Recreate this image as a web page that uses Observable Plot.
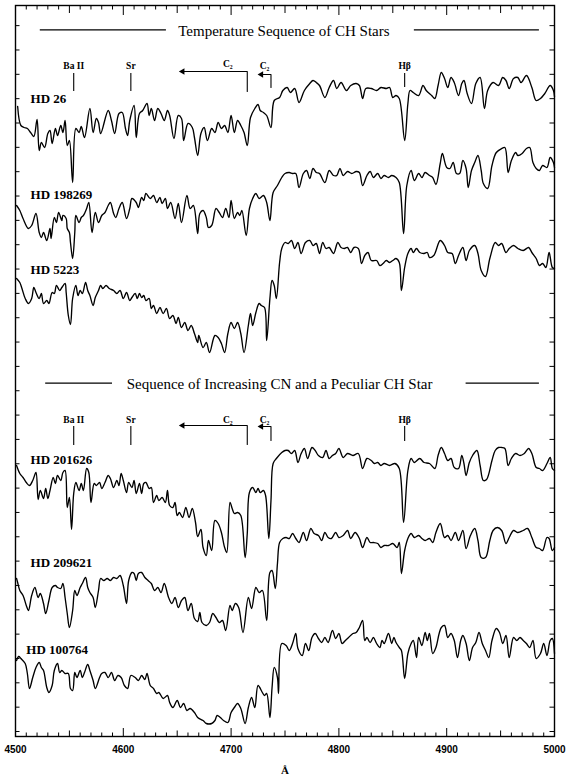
<!DOCTYPE html>
<html><head><meta charset="utf-8">
<script src="https://cdn.jsdelivr.net/npm/d3@7"></script>
<script src="https://cdn.jsdelivr.net/npm/@observablehq/plot@0.6"></script>
<style>html,body{margin:0;padding:0;background:#fff;}</style>
</head><body><div id="chart"></div>
<script>
// Star names (top to bottom)
const starNames = ["HD 26","HD 198269","HD 5223","HD 201626","HD 209621","HD 100764"];

// Spectra: [wavelength (Å), relative flux with display offset]
const hd26 = [[4502,630],[4505,611],[4508,609],[4511,608],[4514,604],[4517,600],[4520,617],[4522,586],[4524,594],[4527,589],[4530,603],[4532,606],[4534,593],[4537,608],[4539,601],[4542,611],[4544,604],[4546,616],[4548,591],[4550,596],[4553,554],[4556,608],[4559,604],[4561,610],[4564,599],[4569,628],[4572,604],[4575,618],[4577,614],[4579,603],[4586,626],[4589,616],[4592,603],[4596,623],[4599,624],[4602,608],[4604,601],[4606,616],[4610,631],[4612,599],[4615,623],[4618,626],[4622,633],[4624,621],[4626,628],[4629,616],[4632,628],[4635,623],[4638,616],[4641,626],[4643,621],[4647,598],[4651,621],[4654,618],[4656,596],[4660,613],[4664,609],[4666,599],[4669,581],[4672,603],[4675,609],[4678,596],[4682,608],[4685,604],[4688,614],[4691,608],[4694,611],[4697,604],[4700,621],[4703,604],[4706,616],[4709,611],[4712,604],[4715,591],[4718,619],[4722,628],[4725,632],[4727,626],[4730,624],[4733,621],[4737,609],[4740,636],[4745,639],[4748,646],[4752,649],[4755,644],[4759,648],[4763,634],[4768,646],[4773,653],[4776,656],[4779,654],[4782,651],[4787,639],[4791,649],[4795,656],[4798,648],[4802,654],[4807,646],[4811,651],[4816,653],[4819,651],[4822,638],[4825,648],[4830,648],[4835,646],[4839,649],[4844,648],[4847,649],[4850,639],[4853,641],[4856,638],[4861,596],[4864,633],[4866,646],[4869,644],[4874,641],[4878,651],[4881,646],[4886,641],[4889,638],[4892,651],[4895,664],[4898,658],[4901,649],[4904,659],[4907,654],[4911,641],[4914,653],[4916,656],[4919,643],[4923,633],[4927,653],[4931,659],[4935,628],[4938,646],[4943,654],[4948,651],[4952,659],[4955,656],[4958,648],[4962,658],[4966,659],[4969,654],[4974,661],[4979,649],[4983,636],[4987,638],[4991,643],[4996,651],[4999,646],[5000,640]];

const hd198269 = [[4501,531],[4504,526],[4507,518],[4512,508],[4515,511],[4519,523],[4522,504],[4524,499],[4526,504],[4529,496],[4532,508],[4533,498],[4536,519],[4538,514],[4540,524],[4543,516],[4544,521],[4547,518],[4548,508],[4550,504],[4551,494],[4553,478],[4555,504],[4556,521],[4559,514],[4561,519],[4563,521],[4566,528],[4568,534],[4571,504],[4574,524],[4577,514],[4580,521],[4583,524],[4586,531],[4588,534],[4591,523],[4593,519],[4596,528],[4599,534],[4603,518],[4606,528],[4608,538],[4612,534],[4614,529],[4617,539],[4619,536],[4621,543],[4625,538],[4628,541],[4631,534],[4634,539],[4636,533],[4639,538],[4641,528],[4644,534],[4648,518],[4651,533],[4654,514],[4659,541],[4662,528],[4665,531],[4669,503],[4671,523],[4674,526],[4677,519],[4679,509],[4682,511],[4686,528],[4689,524],[4692,519],[4695,528],[4698,519],[4700,536],[4703,518],[4706,524],[4708,521],[4710,526],[4714,501],[4717,528],[4720,538],[4723,543],[4726,538],[4730,541],[4733,534],[4736,516],[4739,544],[4743,551],[4747,559],[4750,563],[4754,564],[4757,563],[4760,563],[4763,549],[4767,563],[4770,566],[4773,558],[4776,568],[4779,564],[4782,563],[4787,554],[4791,566],[4795,561],[4798,561],[4801,568],[4804,561],[4808,565],[4812,563],[4816,565],[4819,564],[4822,551],[4826,561],[4829,565],[4832,559],[4836,563],[4839,558],[4842,561],[4846,559],[4849,561],[4853,559],[4856,554],[4860,503],[4863,551],[4867,566],[4870,556],[4874,563],[4877,559],[4880,564],[4884,561],[4887,559],[4890,552],[4894,573],[4896,583],[4900,569],[4903,568],[4906,574],[4909,563],[4912,563],[4915,576],[4918,568],[4920,549],[4923,566],[4926,574],[4929,581],[4932,566],[4934,553],[4938,548],[4942,571],[4946,584],[4951,588],[4954,589],[4957,564],[4960,576],[4964,584],[4966,581],[4970,583],[4974,588],[4977,589],[4980,574],[4983,568],[4986,566],[4989,571],[4993,569],[4996,579],[4999,574],[5000,569]];

const hd5223 = [[4501,458],[4504,454],[4506,448],[4509,438],[4512,433],[4515,438],[4517,449],[4519,444],[4522,438],[4524,443],[4526,433],[4529,436],[4531,433],[4534,444],[4536,443],[4538,451],[4541,446],[4543,449],[4546,453],[4547,444],[4549,421],[4551,412],[4553,438],[4556,451],[4558,441],[4560,446],[4562,443],[4565,454],[4567,446],[4569,441],[4572,431],[4574,439],[4577,446],[4579,451],[4581,448],[4584,451],[4587,448],[4591,446],[4594,443],[4597,446],[4600,438],[4603,444],[4606,436],[4608,439],[4611,443],[4613,438],[4615,443],[4617,439],[4619,441],[4621,436],[4624,438],[4626,428],[4628,431],[4631,423],[4634,429],[4637,423],[4640,428],[4643,418],[4646,421],[4649,413],[4651,419],[4654,409],[4657,414],[4660,406],[4663,411],[4666,403],[4669,394],[4670,401],[4674,389],[4677,394],[4680,384],[4685,401],[4688,399],[4691,393],[4694,384],[4697,403],[4700,414],[4703,408],[4706,414],[4709,403],[4712,384],[4716,411],[4718,423],[4720,411],[4723,424],[4726,433],[4728,431],[4731,429],[4733,396],[4736,438],[4738,456],[4740,451],[4742,438],[4745,474],[4747,488],[4750,494],[4753,493],[4756,496],[4759,488],[4762,494],[4765,483],[4769,494],[4773,496],[4776,491],[4779,493],[4782,483],[4785,494],[4788,488],[4791,489],[4795,483],[4799,494],[4802,489],[4805,488],[4808,489],[4811,484],[4814,489],[4818,488],[4821,473],[4824,481],[4827,484],[4830,476],[4835,476],[4838,471],[4841,473],[4844,476],[4847,474],[4850,476],[4853,478],[4856,474],[4858,446],[4861,469],[4864,483],[4867,488],[4869,484],[4872,488],[4875,484],[4879,483],[4882,484],[4884,479],[4888,481],[4894,496],[4898,491],[4901,484],[4905,483],[4908,473],[4911,481],[4915,489],[4918,476],[4921,486],[4926,491],[4929,483],[4932,466],[4936,460],[4940,478],[4945,494],[4948,491],[4951,493],[4955,484],[4958,488],[4962,491],[4966,488],[4971,486],[4976,489],[4979,484],[4983,478],[4986,471],[4989,473],[4992,469],[4995,484],[4998,469],[5000,468]];

const hd201626 = [[4501,271],[4504,263],[4507,259],[4510,254],[4513,251],[4516,256],[4519,264],[4521,237],[4523,246],[4526,238],[4528,248],[4530,238],[4532,246],[4535,259],[4537,253],[4539,261],[4542,256],[4544,264],[4546,266],[4548,229],[4550,239],[4552,207],[4554,243],[4556,254],[4559,246],[4561,253],[4563,246],[4566,268],[4568,264],[4570,234],[4573,253],[4575,251],[4578,254],[4580,248],[4583,254],[4586,261],[4588,258],[4591,249],[4594,256],[4596,251],[4598,263],[4600,256],[4603,244],[4605,254],[4608,249],[4610,256],[4612,243],[4615,253],[4617,243],[4619,253],[4621,254],[4624,248],[4626,249],[4628,234],[4631,241],[4633,236],[4636,239],[4639,234],[4641,246],[4643,231],[4646,229],[4648,234],[4650,221],[4652,224],[4655,219],[4658,229],[4661,219],[4664,228],[4667,214],[4669,200],[4672,207],[4674,189],[4677,181],[4679,196],[4682,186],[4685,216],[4688,213],[4691,204],[4694,189],[4696,184],[4699,234],[4701,228],[4703,223],[4706,224],[4709,221],[4713,179],[4715,203],[4717,244],[4720,249],[4723,244],[4725,248],[4727,244],[4730,246],[4732,241],[4735,198],[4737,236],[4739,273],[4742,278],[4747,284],[4750,286],[4753,286],[4756,283],[4759,286],[4762,274],[4765,283],[4768,288],[4771,278],[4775,289],[4778,286],[4781,281],[4785,279],[4788,286],[4791,278],[4794,281],[4797,283],[4800,288],[4804,279],[4808,283],[4813,281],[4818,283],[4822,268],[4826,278],[4830,276],[4833,273],[4836,274],[4839,271],[4842,273],[4847,271],[4852,273],[4856,268],[4860,214],[4864,266],[4867,278],[4870,274],[4875,278],[4879,274],[4884,273],[4889,268],[4892,281],[4895,289],[4898,283],[4901,276],[4904,278],[4907,269],[4911,268],[4914,281],[4916,273],[4918,261],[4921,274],[4924,281],[4928,286],[4931,271],[4934,256],[4937,257],[4942,276],[4945,286],[4948,289],[4951,289],[4954,288],[4957,271],[4960,278],[4964,283],[4968,281],[4972,283],[4976,288],[4979,283],[4983,269],[4986,268],[4989,266],[4993,273],[4996,279],[4998,268],[5000,266]];

const hd209621 = [[4501,158],[4502,154],[4504,146],[4507,141],[4510,131],[4512,126],[4515,141],[4518,149],[4521,139],[4523,143],[4526,133],[4528,123],[4531,136],[4534,149],[4537,151],[4539,149],[4542,148],[4544,153],[4546,139],[4548,123],[4550,109],[4553,126],[4555,146],[4557,141],[4560,149],[4562,153],[4565,159],[4567,149],[4569,144],[4572,139],[4574,129],[4577,146],[4579,158],[4582,156],[4585,158],[4588,156],[4591,159],[4594,158],[4597,161],[4600,151],[4603,133],[4605,156],[4608,164],[4610,163],[4612,156],[4614,163],[4617,164],[4620,159],[4623,156],[4626,153],[4629,146],[4632,149],[4635,144],[4638,153],[4642,139],[4645,133],[4648,139],[4651,129],[4654,136],[4657,139],[4660,126],[4663,133],[4666,118],[4669,115],[4671,124],[4673,114],[4677,111],[4680,114],[4683,123],[4686,119],[4689,114],[4692,116],[4695,106],[4699,131],[4701,126],[4704,133],[4707,129],[4711,104],[4716,139],[4719,128],[4723,149],[4726,144],[4729,146],[4733,116],[4736,164],[4738,166],[4741,148],[4743,173],[4745,194],[4748,198],[4751,199],[4754,198],[4757,203],[4760,198],[4763,194],[4767,204],[4770,196],[4774,208],[4777,203],[4781,201],[4784,196],[4787,204],[4790,199],[4793,198],[4797,204],[4800,199],[4804,201],[4808,206],[4811,198],[4815,204],[4819,198],[4822,189],[4826,199],[4829,194],[4832,194],[4836,193],[4839,189],[4842,191],[4846,191],[4850,193],[4854,189],[4856,194],[4858,163],[4861,186],[4864,198],[4867,203],[4870,199],[4874,201],[4877,198],[4880,196],[4884,198],[4887,194],[4890,204],[4894,213],[4898,199],[4901,201],[4904,196],[4908,204],[4911,196],[4915,206],[4918,188],[4922,201],[4926,208],[4929,196],[4932,179],[4936,179],[4940,196],[4943,206],[4947,209],[4951,206],[4955,193],[4958,199],[4962,206],[4966,204],[4971,206],[4975,208],[4979,199],[4983,189],[4986,188],[4989,186],[4993,199],[4995,198],[4998,186],[5000,189]];

const hd100764 = [[4501,76],[4503,80],[4505,78],[4509,73],[4511,63],[4513,48],[4516,59],[4519,69],[4522,74],[4524,69],[4526,66],[4529,49],[4531,44],[4534,51],[4536,66],[4539,73],[4541,64],[4543,66],[4546,63],[4549,63],[4551,48],[4553,46],[4555,64],[4557,59],[4560,66],[4562,59],[4564,64],[4567,72],[4569,66],[4572,56],[4574,48],[4578,59],[4580,63],[4583,64],[4586,59],[4589,64],[4592,56],[4595,61],[4598,59],[4601,51],[4604,48],[4607,61],[4611,59],[4614,56],[4617,61],[4620,57],[4622,63],[4625,51],[4628,48],[4631,43],[4633,44],[4637,38],[4641,41],[4643,34],[4646,29],[4650,36],[4653,29],[4656,33],[4659,26],[4662,28],[4666,24],[4669,19],[4674,16],[4677,13],[4682,13],[4685,16],[4687,21],[4690,19],[4693,16],[4697,14],[4700,24],[4703,29],[4706,33],[4709,28],[4713,13],[4716,29],[4719,39],[4722,29],[4725,51],[4729,44],[4731,41],[4733,43],[4736,19],[4738,49],[4740,69],[4743,59],[4744,43],[4747,93],[4751,91],[4754,86],[4757,93],[4760,103],[4762,88],[4766,81],[4769,93],[4772,86],[4775,99],[4778,103],[4781,98],[4784,94],[4787,99],[4790,94],[4794,106],[4797,98],[4800,103],[4803,93],[4806,96],[4809,99],[4813,103],[4816,104],[4819,109],[4822,116],[4824,96],[4826,99],[4829,94],[4832,99],[4835,93],[4838,89],[4840,96],[4842,93],[4846,103],[4849,93],[4851,99],[4853,94],[4856,89],[4858,86],[4861,58],[4864,83],[4867,93],[4869,96],[4872,79],[4874,99],[4877,91],[4880,104],[4882,96],[4884,103],[4887,83],[4890,89],[4893,103],[4895,109],[4898,111],[4901,99],[4904,103],[4907,96],[4910,79],[4913,96],[4915,101],[4918,93],[4921,76],[4924,89],[4927,94],[4930,104],[4933,93],[4936,86],[4939,79],[4942,96],[4946,108],[4949,104],[4952,93],[4955,101],[4958,79],[4962,99],[4965,96],[4968,99],[4971,96],[4974,93],[4977,89],[4980,96],[4983,78],[4987,83],[4990,93],[4993,81],[4996,96],[4998,98],[5000,83]];

const spectra = [hd26, hd198269, hd5223, hd201626, hd209621, hd100764];

// Star label anchors (wavelength, flux baseline)
const starLabelWl = [4514, 4514, 4514, 4514, 4514, 4510];
const starLabelFlux = [634, 538, 463, 273, 170, 83];

// Panel titles
const panelTitles = ["Temperature Sequence of CH Stars", "Sequence of Increasing CN and a Peculiar CH Star"];
const titleWl = [4749, 4745];
const titleFlux = [705.5, 352];
const titleRuleFlux = [706.7, 706.7, 353.3, 353.3];
const titleRuleFrom = [4523, 4870, 4528, 4918];
const titleRuleTo = [4640, 4986, 4590, 4986];

// Line identifications
const featureNames = ["Ba II", "Sr", "Hβ"];
const featureWl = [4554, 4607, 4861];
const panelLabelFlux = [671, 317];
const featureTickTop = [[663, 663, 663], [310, 310, 310]];
const featureTickBottom = [[645, 645, 649], [291, 291, 295]];

// C2 band heads with leftward arrows
const c2Head = [4715, 4737];
const c2Tail = [4655, 4728];
const c2LabelWl = [4697, 4731];
const c2LabelFlux = [[673, 671], [317, 317]];
const c2ArrowFlux = [[665, 662], [311, 310]];
const c2DropFlux = [[645, 649], [292, 296]];

// Axis ticks
const xLabels = [4500, 4600, 4700, 4800, 4900, 5000];
const xMinor = d3.range(4510, 5000, 10).filter(d => d % 50 !== 0);
const xMid = [4550, 4650, 4750, 4850, 4950];
const xMajor = [4600, 4700, 4800, 4900];
const yTicks = d3.range(0, 30).map(k => 5 + 24.34 * k);

// ---- build tables ----
const rows = spectra.flatMap((s, i) => s.map(([wl, f]) => ({star: starNames[i], wl, f})));
const starLabels = starNames.map((name, i) => ({name, wl: starLabelWl[i], f: starLabelFlux[i]}));
const titles = panelTitles.map((t, i) => ({t, wl: titleWl[i], f: titleFlux[i]}));
const titleRules = titleRuleFlux.map((f, i) => ({f, x1: titleRuleFrom[i], x2: titleRuleTo[i]}));
const featLabels = [], featTicks = [], c2Labels = [], c2Lines = [], c2Tips = [];
for (let p = 0; p < 2; p++) {
  featureNames.forEach((n, j) => {
    featLabels.push({n, wl: featureWl[j], f: panelLabelFlux[p]});
    featTicks.push({wl: featureWl[j], y1: featureTickBottom[p][j], y2: featureTickTop[p][j]});
  });
  c2Head.forEach((h, b) => {
    c2Labels.push({n: "C₂", wl: c2LabelWl[b], f: c2LabelFlux[p][b]});
    const id = p + "-" + b;
    c2Lines.push({id, wl: c2Tail[b], f: c2ArrowFlux[p][b]});
    c2Lines.push({id, wl: h, f: c2ArrowFlux[p][b]});
    c2Lines.push({id, wl: h, f: c2DropFlux[p][b]});
    c2Tips.push({wl: c2Tail[b], f: c2ArrowFlux[p][b]});
  });
}

const W = 570, H = 779, mL = 15, mR = 16, mT = 5, mB = 43;
const PW = W - mL - mR, PH = H - mT - mB;
const serif = "Liberation Serif, Times New Roman, serif";

const chart = Plot.plot({
  width: W, height: H,
  marginLeft: mL, marginRight: mR, marginTop: mT, marginBottom: mB,
  x: {domain: [4500, 5000]},
  y: {domain: [0, 731], axis: null},
  style: {background: "white", color: "black", fontFamily: serif},
  marks: [
    Plot.frame({stroke: "black", strokeWidth: 1.4}),
    // inward ticks on all four sides
    Plot.tickX(xMinor, {insetBottom: PH - 4.5, strokeWidth: 1}),
    Plot.tickX(xMid, {insetBottom: PH - 8, strokeWidth: 1}),
    Plot.tickX(xMajor, {insetBottom: PH - 10, strokeWidth: 1}),
    Plot.tickX(xMinor, {insetTop: PH - 3.5, strokeWidth: 1}),
    Plot.tickX(xMid, {insetTop: PH - 5.5, strokeWidth: 1}),
    Plot.tickX(xMajor, {insetTop: PH - 8, strokeWidth: 1}),
    Plot.tickY(yTicks, {insetRight: PW - 4.5, strokeWidth: 1}),
    Plot.tickY(yTicks, {insetLeft: PW - 4.5, strokeWidth: 1}),
    Plot.axisX({ticks: xLabels, tickSize: 0, tickPadding: 9, tickFormat: d => String(d),
      fontSize: 10, fontWeight: "bold", fontFamily: "Liberation Sans, Arial, sans-serif", label: null}),
    Plot.text(["Å"], {frameAnchor: "bottom", dy: 37, lineAnchor: "bottom", fontSize: 11, fontWeight: "bold", fontFamily: serif}),
    // spectra
    Plot.line(rows, {x: "wl", y: "f", z: "star", stroke: "black", strokeWidth: 1.35, strokeLinejoin: "round", curve: "catmull-rom"}),
    // star names
    Plot.text(starLabels, {x: "wl", y: "f", text: "name", textAnchor: "start", lineAnchor: "bottom",
      fontSize: 13, fontWeight: "bold", fontFamily: serif, fill: "black"}),
    // panel titles and their side rules
    Plot.text(titles, {x: "wl", y: "f", text: "t", lineAnchor: "middle", fontSize: 15, fontFamily: serif, fill: "black"}),
    Plot.ruleY(titleRules, {y: "f", x1: "x1", x2: "x2", strokeWidth: 1.2}),
    // line identifications
    Plot.text(featLabels, {x: "wl", y: "f", text: "n", lineAnchor: "middle", fontSize: 9.5, fontWeight: "bold", fontFamily: serif}),
    Plot.ruleX(featTicks, {x: "wl", y1: "y1", y2: "y2", strokeWidth: 1.1}),
    Plot.text(c2Labels, {x: "wl", y: "f", text: "n", lineAnchor: "middle", fontSize: 9.5, fontWeight: "bold", fontFamily: serif}),
    Plot.line(c2Lines, {x: "wl", y: "f", z: "id", stroke: "black", strokeWidth: 1.1}),
    Plot.dot(c2Tips, {x: "wl", y: "f", symbol: "triangle", r: 2.4, fill: "black", stroke: "none", rotate: -90})
  ]
});
document.getElementById("chart").appendChild(chart);
</script>
</body></html>
